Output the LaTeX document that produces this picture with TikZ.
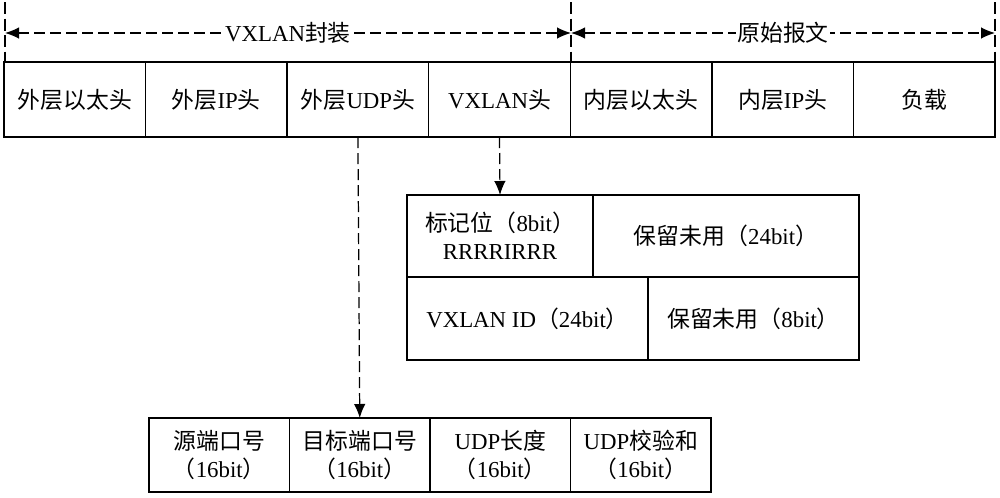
\documentclass[tikz,border=0pt]{standalone}
\usepackage{fontspec}
\setmainfont{Liberation Serif}
\newfontfamily\zhfont{Noto Sans CJK SC}
\newcommand{\zh}[1]{{\zhfont #1}}
\usetikzlibrary{positioning,arrows.meta}

\begin{document}
\begin{tikzpicture}[x=0.2mm,y=-0.2mm,
	cell/.style={draw,line width=0.8pt,outer sep=0pt,inner sep=1pt,align=center,
		font=\fontsize{13}{16}\selectfont},
	top/.style={cell,minimum width=28.314mm,minimum height=15mm},
	port/.style={cell,minimum width=28.1mm,minimum height=14.8mm},
	guide/.style={line width=0.6pt,dash pattern=on 2.4mm off 0.9mm},
	link/.style={line width=0.7pt,dash pattern=on 2.2mm off 1mm,-{Latex[length=2.8mm,width=2.3mm]}},
	span/.style={line width=0.7pt,dash pattern=on 2.2mm off 1mm,{Latex[length=2.8mm,width=2.3mm]}-{Latex[length=2.8mm,width=2.3mm]}}]
	\useasboundingbox (0,0) rectangle (1000,497);
	% outer packet
	\node[top,anchor=north west] (oeth) at (4,62) {\zh{外层以太头}};
	\node[top,right=0pt of oeth] (oip) {\zh{外层}IP\zh{头}};
	\node[top,right=0pt of oip] (oudp) {\zh{外层}UDP\zh{头}};
	\node[top,right=0pt of oudp] (vxh) {VXLAN\zh{头}};
	\node[top,right=0pt of vxh] (ieth) {\zh{内层以太头}};
	\node[top,right=0pt of ieth] (iip) {\zh{内层}IP\zh{头}};
	\node[top,right=0pt of iip] (load) {\zh{负载}};
	% span marks
	\coordinate (lft) at (5,33);
	\coordinate (mid) at (571,33);
	\coordinate (rgt) at (995,33);
	\draw[guide] (5,2)--(5,62) (571,2)--(571,62) (995,2)--(995,62);
	\draw[span] (lft)--(mid) node[midway,fill=white,inner sep=0.5pt,font=\fontsize{13}{15}\selectfont] (enc) {VXLAN\zh{封装}};
	\draw[span] (mid)--(rgt) node[midway,fill=white,inner sep=0.5pt,font=\fontsize{13}{15}\selectfont] (orig) {\zh{原始报文}};
	% VXLAN header
	\node[cell,anchor=north west,minimum width=37.2mm,minimum height=16.4mm] (flag) at (407,195) {\zh{标记位（}8bit\zh{）}\\RRRRIRRR};
	\node[cell,right=0pt of flag,minimum width=53.2mm,minimum height=16.4mm] (rsv1) {\zh{保留未用（}24bit\zh{）}};
	\node[cell,anchor=north west,minimum width=48.2mm,minimum height=16.6mm] (vni) at (flag.south west) {VXLAN ID\zh{（}24bit\zh{）}};
	\node[cell,right=0pt of vni,minimum width=42.2mm,minimum height=16.6mm] (rsv2) {\zh{保留未用（}8bit\zh{）}};
	% UDP header
	\node[port,anchor=north west] (sport) at (149,418) {\zh{源端口号}\\\zh{（}16bit\zh{）}};
	\node[port,right=0pt of sport] (dport) {\zh{目标端口号}\\\zh{（}16bit\zh{）}};
	\node[port,right=0pt of dport] (ulen) {UDP\zh{长度}\\\zh{（}16bit\zh{）}};
	\node[port,right=0pt of ulen] (usum) {UDP\zh{校验和}\\\zh{（}16bit\zh{）}};
	% links
	\draw[link] (vxh.south)--(flag.north);
	\draw[link] (oudp.south)--(dport.north);
\end{tikzpicture}
\end{document}
